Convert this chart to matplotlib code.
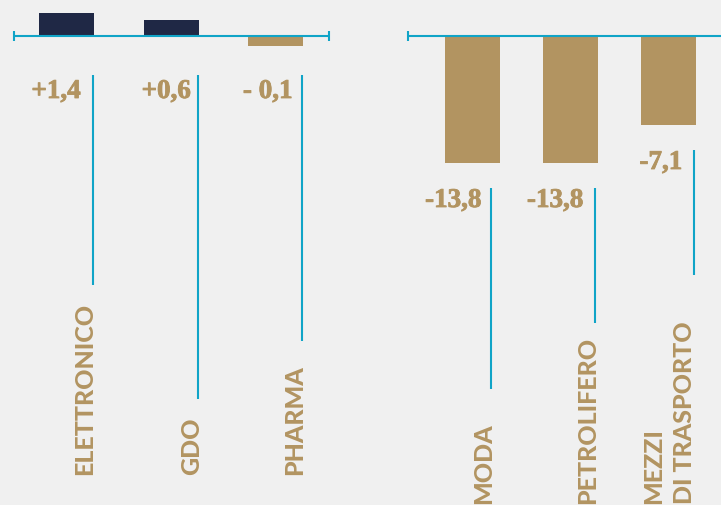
import matplotlib
matplotlib.use('Agg')
import matplotlib.pyplot as plt
import matplotlib.patheffects as pe

# ---------------- data ----------------
left_categories = ['ELETTRONICO', 'GDO', 'PHARMA']
left_values = [1.4, 0.6, -0.1]
left_value_labels = ['+1,4', '+0,6', '- 0,1']
left_bar_lengths = [2.3, 1.6, -1.0]        # bar lengths as drawn in the picture

right_categories = ['MODA', 'PETROLIFERO', 'MEZZI\nDI TRASPORTO']
right_values = [-13.8, -13.8, -7.1]
right_value_labels = ['-13,8', '-13,8', '-7,1']
right_bar_lengths = [-12.7, -12.7, -8.9]

# ---------------- style ----------------
BG = '#F0F0F0'
NAVY = '#1F2845'
TAN = '#B29461'
CYAN = '#10A4C7'
W, H = 721, 506

fig = plt.figure(figsize=(W / 100, H / 100), dpi=100, facecolor=BG)


def panel(x0, x1, c0, step):
    ax = fig.add_axes([x0 / W, 0, (x1 - x0) / W, 1])
    ax.set_xlim((x0 - c0) / step, (x1 - c0) / step)
    ax.set_ylim(-46.9, 3.7)
    ax.axis('off')
    ax.set_facecolor(BG)
    return ax


def draw(ax, cats, vals, vlabels, lengths, bar_w, line_tops, line_bots,
         line_dx, base_drop, gaps, lab_dx, lab_y, ticks):
    xs = list(range(len(cats)))
    colors = [NAVY if v > 0 else TAN for v in vals]
    ax.bar(xs, lengths, width=bar_w, color=colors, zorder=2)
    xl = ax.get_xlim()
    ax.plot([xl[0], xl[1]], [0, 0], color=CYAN, lw=1.5, zorder=3,
            solid_capstyle='butt', clip_on=False)
    ax.plot(ticks, [0] * len(ticks), ls='none', marker='|', ms=7.5, mew=1.5,
            color=CYAN, zorder=3, clip_on=False)
    for i, x in enumerate(xs):
        lx = x + line_dx[i]
        ax.plot([lx, lx], [line_tops[i], line_bots[i]], color=CYAN, lw=1.5,
                solid_capstyle='butt')
        ax.annotate(vlabels[i], (lx, line_tops[i] - base_drop),
                    xytext=(-gaps[i], 0), textcoords='offset points',
                    ha='right', va='baseline', color=TAN, fontsize=19.5,
                    fontweight='bold', family='Liberation Serif',
                    path_effects=[pe.withStroke(linewidth=0.6, foreground=TAN)])
        ax.text(x + lab_dx[i], lab_y, cats[i], rotation=90,
                rotation_mode='anchor', ha='left', va='center',
                color=TAN, fontsize=18, fontweight='black', family='Lato',
                linespacing=1.45, multialignment='left')


axL = panel(14, 329, 66.5, 104.5)
draw(axL, left_categories, left_values, left_value_labels, left_bar_lengths,
     bar_w=55 / 104.5,
     line_tops=[-3.9, -3.9, -3.9],
     line_bots=[-24.9, -36.3, -30.5],
     line_dx=[0.255, 0.255, 0.255],
     base_drop=2.3,
     gaps=[9, 5, 7],
     lab_dx=[0.177, 0.196, 0.187],
     lab_y=-43.8,
     ticks=list(axL.get_xlim()))

axR = panel(408, 721, 472.5, 98)
draw(axR, right_categories, right_values, right_value_labels, right_bar_lengths,
     bar_w=55 / 98,
     line_tops=[l - 2.5 for l in right_bar_lengths],
     line_bots=[-35.3, -28.7, -23.9],
     line_dx=[0.189, 0.25, 0.26],
     base_drop=1.9,
     gaps=[7, 8.5, 8.5],
     lab_dx=[0.117, 0.179, 0.005],
     lab_y=-46.7,
     ticks=[axR.get_xlim()[0]])

fig.savefig('out.png', dpi=100, facecolor=BG)
